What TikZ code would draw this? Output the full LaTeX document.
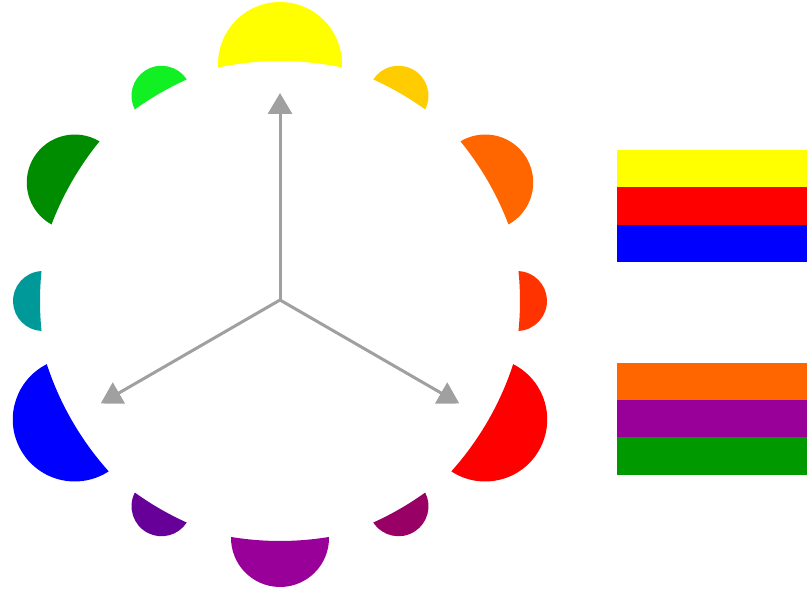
\documentclass[tikz,border=0pt]{standalone}
\usetikzlibrary{arrows.meta,calc}
\definecolor{cY}{HTML}{FFFF00}
\definecolor{cYO}{HTML}{FFCC00}
\definecolor{cO}{HTML}{FF6600}
\definecolor{cRO}{HTML}{FF3300}
\definecolor{cR}{HTML}{FF0000}
\definecolor{cRV}{HTML}{990066}
\definecolor{cV}{HTML}{990099}
\definecolor{cBV}{HTML}{660099}
\definecolor{cB}{HTML}{0000FF}
\definecolor{cBG}{HTML}{009999}
\definecolor{cG}{HTML}{008C00}
\definecolor{cYG}{HTML}{11F022}
\definecolor{barO}{HTML}{FF6600}
\definecolor{barV}{HTML}{990099}
\definecolor{barG}{HTML}{009900}
\definecolor{arrowgray}{HTML}{A0A0A0}
\tikzset{
  spoke/.style={draw=arrowgray, line width=3pt, -{Triangle[length=21pt,width=24pt]}},
  bar/.style={fill=#1, draw=none}
}
\begin{document}
\begin{tikzpicture}[x=1pt,y=1pt]
\useasboundingbox (0,0) rectangle (807,595);
\fill[white] (0,0) rectangle (807,595);
\coordinate (W) at (280,294);
\coordinate (C) at (280,295);
% crescents: disc of radius r, cut by an inner arc of radius Rin
\foreach \ang/\r/\col in {90/62/cY, 60/30/cYO, 30/48/cO, 0/30/cRO, -30/62/cR, -60/30/cRV, -90/49/cV, -120/30/cBV, -150/62/cB, 180/30/cBG, 150/48/cG, 120/30/cYG}{
  \pgfmathsetmacro\RR{3.00}
  \pgfmathsetmacro\dd{2.37+\RR-2.40}
  \pgfmathsetmacro\rr{\r/100}
  \pgfmathsetmacro\xx{(\dd*\dd+\RR*\RR-\rr*\rr)/(2*\dd)}
  \pgfmathsetmacro\hh{sqrt(\RR*\RR-\xx*\xx)}
  \pgfmathsetmacro\phia{atan2(\hh,\xx)}
  \pgfmathsetmacro\psia{atan2(\hh,\xx-\dd)}
  \pgfmathsetmacro\Rpx{\RR*100}
  \pgfmathsetmacro\off{240-\Rpx}
  \coordinate (O) at ($(W)+(\ang:\off)$);
  \fill[\col] ($(O)+(\ang-\phia:\Rpx)$)
     arc[start angle=\ang-\psia, end angle=\ang+\psia, radius=\r]
     arc[start angle=\ang+\phia, end angle=\ang-\phia, radius=\Rpx] -- cycle;
}
% arrows
\coordinate (tY) at ($(C)+(90:207)$);
\coordinate (tB) at ($(C)+(210:207)$);
\coordinate (tR) at ($(C)+(330:207)$);
\draw[spoke] (C) -- (tY);
\draw[spoke] (C) -- (tB);
\draw[spoke] (C) -- (tR);
% bars
\fill[bar=cY] (617,408) rectangle (807,445);
\fill[bar=cR] (617,370) rectangle (807,408);
\fill[bar=cB] (617,333) rectangle (807,370);
\fill[bar=barO] (617,195) rectangle (807,232);
\fill[bar=barV] (617,158) rectangle (807,195);
\fill[bar=barG] (617,120) rectangle (807,158);
\end{tikzpicture}
\end{document}
